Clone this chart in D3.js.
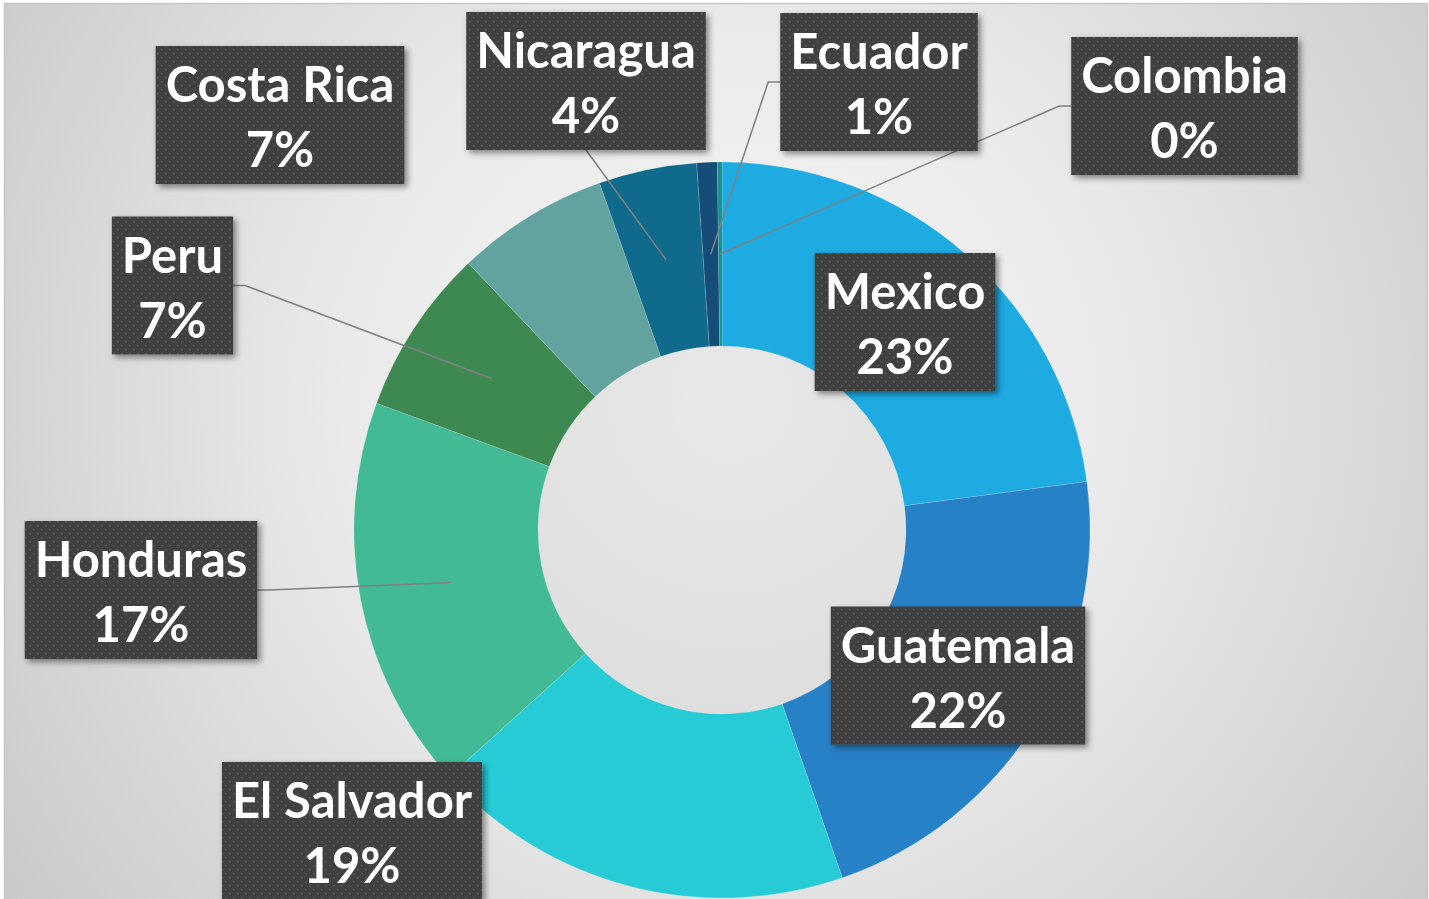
<!DOCTYPE html>
<html><head><meta charset="utf-8">
<script src="https://cdn.jsdelivr.net/npm/d3@7"></script>
<style>html,body{margin:0;padding:0;background:#fff;overflow:hidden}</style>
</head><body>
<svg id="chart" width="1429" height="899"></svg>
<script>
// ---- data ----
const countries = ["Mexico","Guatemala","El Salvador","Honduras","Peru","Costa Rica","Nicaragua","Ecuador","Colombia"];
const shares    = [22.9, 21.8, 18.6, 17.3, 7.3, 6.7, 4.3, 0.9, 0.2];
const colors    = ["#1DABE2","#2781C6","#27CBD6","#42BA95","#3E8852","#62A3A0","#0F6A8B","#164D78","#1B8E8A"];

// ---- layout (label box centres, leader attach side) ----
const labelCenters = [[905,322],[958,675.5],[352,831],[141,590],[172.5,285.5],[280,115],[586,81],[879,82],[1184.5,106]];
const leaderSide   = [null,null,null,"right","right",null,"bottom","left","left"];

const W = 1429, H = 899;
const cx = 722, cy = 530, rOuter = 368, rInner = 184;
const svg = d3.select("#chart");
const defs = svg.append("defs");

const bg = defs.append("radialGradient").attr("id","bg").attr("gradientUnits","userSpaceOnUse")
  .attr("cx",730).attr("cy",400).attr("r",960);
bg.append("stop").attr("offset","0").attr("stop-color","#f7f7f7");
bg.append("stop").attr("offset","0.4").attr("stop-color","#eaeaea");
bg.append("stop").attr("offset","1").attr("stop-color","#c4c4c4");

const pat = defs.append("pattern").attr("id","dots").attr("patternUnits","userSpaceOnUse")
  .attr("width",8).attr("height",8);
pat.append("rect").attr("width",8).attr("height",8).attr("fill","#404040");
pat.append("rect").attr("x",1).attr("y",1).attr("width",1.6).attr("height",1.6).attr("fill","#5c5c5c");
pat.append("rect").attr("x",5).attr("y",5).attr("width",1.6).attr("height",1.6).attr("fill","#5c5c5c");

const sh = defs.append("filter").attr("id","shadow").attr("x","-10%").attr("y","-10%").attr("width","130%").attr("height","130%");
sh.append("feDropShadow").attr("dx",3).attr("dy",3).attr("stdDeviation",3).attr("flood-color","#000").attr("flood-opacity",0.45);

const inner = defs.append("radialGradient").attr("id","holeShade").attr("gradientUnits","userSpaceOnUse")
  .attr("cx",cx).attr("cy",cy).attr("r",rInner);
inner.append("stop").attr("offset","0.9").attr("stop-color","#000").attr("stop-opacity",0);
inner.append("stop").attr("offset","1").attr("stop-color","#000").attr("stop-opacity",0.06);

// background & frame
svg.append("rect").attr("width",W).attr("height",H).attr("fill","#ffffff");
svg.append("rect").attr("x",4.5).attr("y",3.5).attr("width",1423).attr("height",900)
  .attr("fill","url(#bg)").attr("stroke","#c6c6c6").attr("stroke-width",1.5);

// donut
const data = countries.map((c,i)=>({country:c, value:shares[i], color:colors[i], i}));
const total = d3.sum(shares);
const pie = d3.pie().value(d=>d.value).sort(null).startAngle(0).endAngle(2*Math.PI);
const arc = d3.arc().innerRadius(rInner).outerRadius(rOuter);
const arcs = pie(data);
const g = svg.append("g").attr("transform",`translate(${cx},${cy})`);
g.selectAll("path.slice").data(arcs).join("path").attr("class","slice")
  .attr("d",arc).attr("fill",d=>d.data.color)
  .attr("stroke","rgba(255,255,255,0.25)").attr("stroke-width",0.6);
g.append("circle").attr("r",rInner).attr("fill","url(#holeShade)");

// labels
const fontFamily = "Lato, 'Open Sans', sans-serif";
const fs = 49;
const leaders = svg.append("g");
const lg = svg.append("g");
const boxH = 138;
arcs.forEach((a,i)=>{
  const [lx,ly] = labelCenters[i];
  const pct = Math.round(a.data.value/total*100) + "%";
  const grp = lg.append("g");
  const rect = grp.append("rect");
  const t1 = grp.append("text").attr("x",lx).attr("y",ly-boxH/2+56).attr("text-anchor","middle")
    .attr("font-family",fontFamily).attr("font-weight",700).attr("font-size",fs).attr("fill","#fff")
    .text(a.data.country);
  const t2 = grp.append("text").attr("x",lx).attr("y",ly-boxH/2+121).attr("text-anchor","middle")
    .attr("font-family",fontFamily).attr("font-weight",700).attr("font-size",fs).attr("fill","#fff")
    .text(pct);
  const tw = Math.max(t1.node().getComputedTextLength(), t2.node().getComputedTextLength());
  const bw = tw + 20;
  rect.attr("x",lx-bw/2).attr("y",ly-boxH/2).attr("width",bw).attr("height",boxH)
    .attr("fill","url(#dots)").attr("filter","url(#shadow)");
  // leader line
  const side = leaderSide[i];
  if(side){
    const [px,py] = arc.centroid(a);
    const tx = cx+px, ty = cy+py;
    let pts;
    if(side==="right"){ const x0=lx+bw/2; pts=[[x0,ly],[x0+12,ly],[tx,ty]]; }
    else if(side==="left"){ const x0=lx-bw/2; pts=[[x0,ly],[x0-12,ly],[tx,ty]]; }
    else { const y0=ly+boxH/2; pts=[[lx,y0],[tx,ty]]; }
    leaders.append("path").attr("d",d3.line()(pts)).attr("fill","none")
      .attr("stroke","#808080").attr("stroke-width",1.5);
  }
});
</script>
</body></html>
